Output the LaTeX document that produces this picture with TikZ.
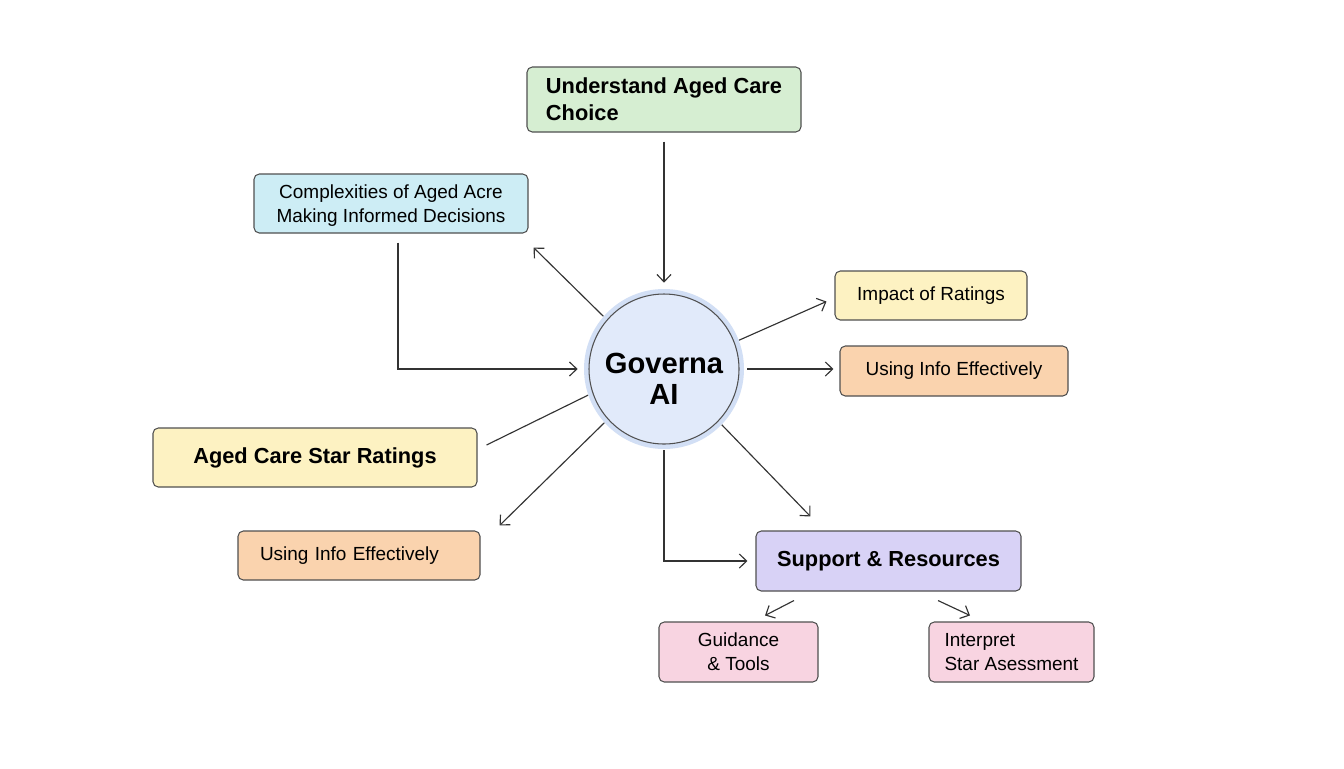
\documentclass[tikz,border=0pt]{standalone}
\usepackage{fontspec}
\setmainfont{Liberation Sans}
\usetikzlibrary{arrows.meta,calc}
\definecolor{bordc}{HTML}{505050}
\definecolor{linec}{HTML}{333333}
\definecolor{greenf}{HTML}{D6EED2}
\definecolor{cyanf}{HTML}{CDEDF5}
\definecolor{yellowf}{HTML}{FDF2C2}
\definecolor{orangef}{HTML}{FAD3AE}
\definecolor{purplef}{HTML}{D8D2F6}
\definecolor{pinkf}{HTML}{F8D4E1}
\definecolor{halof}{HTML}{D2DFF5}
\definecolor{govf}{HTML}{E1EAFA}
\begin{document}
\begin{tikzpicture}[x=0.02cm,y=-0.02cm,
  box/.style={draw=bordc, line width=0.6pt, rounded corners=3pt, inner sep=0pt, align=center},
  reg/.style={font=\fontsize{10.8}{13.8}\selectfont},
  bld/.style={font=\bfseries\fontsize{12.4}{15.3}\selectfont},
  arr/.style={-{Straight Barb[length=4.2pt,width=8pt]}, line width=0.65pt, draw=linec},
  ln/.style={line width=0.65pt, draw=linec}]
\useasboundingbox[fill=white] (0,0) rectangle (1344,768);

% centre
\node[circle, fill=halof, minimum size=160*0.02cm, inner sep=0pt] (gov) at (664,369) {};
\node[circle, draw=bordc, fill=govf, line width=0.6pt, minimum size=150*0.02cm, inner sep=0pt] (govin) at (gov) {};
\node[font=\bfseries\fontsize{16.6}{17.6}\selectfont, align=center, inner sep=0pt] (govt) at (664,378.5) {Governa\\AI};

% boxes
\node[box, bld, fill=greenf, minimum width=274*0.02cm, minimum height=65*0.02cm, align=left] (und) at (664,99.5) {Understand Aged Care\\Choice};
\node[box, reg, fill=cyanf, minimum width=274*0.02cm, minimum height=59*0.02cm, text depth=0pt] (cx) at (391,203.5) {Complexities of Aged Acre\\Making Informed Decisions};
\node[box, reg, fill=yellowf, minimum width=192*0.02cm, minimum height=49*0.02cm] (imp) at (931,295.5) {Impact of Ratings};
\node[box, reg, fill=orangef, minimum width=228*0.02cm, minimum height=50*0.02cm] (use1) at (954,371) {Using Info Effectively};
\node[box, bld, fill=yellowf, minimum width=324*0.02cm, minimum height=59*0.02cm] (acs) at (315,457.5) {Aged Care Star Ratings};
\node[box, reg, fill=orangef, minimum width=242*0.02cm, minimum height=49*0.02cm,
      text width=198*0.02cm, inner xsep=22*0.02cm, align=left] (use2) at (359,555.5) {Using Info Effectively};
\node[box, bld, fill=purplef, minimum width=265*0.02cm, minimum height=60*0.02cm] (sup) at (888.5,561) {Support \& Resources};
\node[box, reg, fill=pinkf, minimum width=159*0.02cm, minimum height=60*0.02cm] (gui) at (738.5,652) {Guidance\\\& Tools};
\node[box, reg, fill=pinkf, minimum width=165*0.02cm, minimum height=60*0.02cm, align=left] (int) at (1011.5,652) {Interpret\\Star Asessment};

% connectors
\draw[arr] ($(und.south)+(0,9)$) -- ($(gov.north)+(0,-6)$);
\draw[arr] (gov.139.5) -- ($(cx.south east)+(5,14)$);
\draw[arr] ($(cx.south)+(7,9)$) |- ($(gov.west)+(-6,0)$);
\draw[arr] (gov.21.9) -- ($(imp.west)+(-8,6)$);
\draw[arr] ($(gov.east)+(3,0)$) -- ($(gov.east -| use1.west)+(-6,0)$);
\draw[ln] (gov.199.7) -- ($(acs.east)+(9,-12.5)$);
\draw[arr] (gov.222.6) -- ($(use2.north east)+(19,-5)$);
\draw[arr] (gov.316) -- ($(sup.north west)+(55,-14)$);
\draw[arr] ($(gov.south)+(0,1)$) |- ($(sup.west)+(-8,0)$);
\draw[arr] ($(sup.south)+(-94.5,9)$) -- ($(gui.north)+(26.5,-6)$);
\draw[arr] ($(sup.south)+(49.5,9)$) -- ($(int.north)+(-41.5,-6)$);
\end{tikzpicture}
\end{document}
